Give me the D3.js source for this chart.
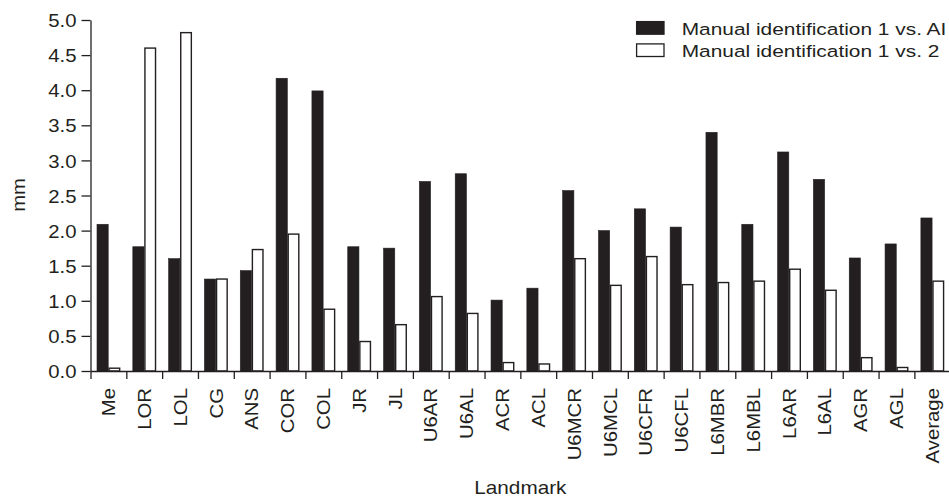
<!DOCTYPE html>
<html>
<head>
<meta charset="utf-8">
<script src="https://cdn.jsdelivr.net/npm/d3@7"></script>
<style>
  html, body { margin: 0; padding: 0; background: #fff; }
  svg { display: block; }
  text { font-family: "Liberation Sans", Arial, Helvetica, sans-serif; fill: #231f20; }
</style>
</head>
<body>
<svg id="chart" width="949" height="497"></svg>
<script>
// Landmarks along the x axis
const landmarks = ["Me", "LOR", "LOL", "CG", "ANS", "COR", "COL", "JR", "JL", "U6AR", "U6AL",
  "ACR", "ACL", "U6MCR", "U6MCL", "U6CFR", "U6CFL", "L6MBR", "L6MBL", "L6AR", "L6AL",
  "AGR", "AGL", "Average"];

// Mean distance (mm): manual identification 1 vs. AI
const vsAI = [2.09, 1.77, 1.60, 1.31, 1.43, 4.17, 3.99, 1.77, 1.75, 2.70, 2.81,
  1.01, 1.18, 2.57, 2.00, 2.31, 2.05, 3.40, 2.09, 3.12, 2.73, 1.61, 1.81, 2.18];

// Mean distance (mm): manual identification 1 vs. 2
const vsManual2 = [0.04, 4.60, 4.82, 1.31, 1.73, 1.95, 0.88, 0.42, 0.66, 1.06, 0.82,
  0.12, 0.10, 1.60, 1.22, 1.63, 1.23, 1.26, 1.28, 1.45, 1.15, 0.19, 0.05, 1.28];

const seriesNames = ["Manual identification 1 vs. AI", "Manual identification 1 vs. 2"];
const yTicks = [0, 0.5, 1.0, 1.5, 2.0, 2.5, 3.0, 3.5, 4.0, 4.5, 5.0];

const ink = "#231f20";
const svg = d3.select("#chart");

const plotLeft = 90.5, plotRight = 950.2, plotTop = 20, plotBottom = 371;

const x = d3.scaleBand().domain(landmarks).range([plotLeft, plotRight]).padding(0);
const xEdge = d3.scaleLinear().domain([0, landmarks.length]).range([plotLeft, plotRight]);
const inner = d3.scaleBand().domain([0, 1]).range([6.2, 29.8]).padding(0);
const y = d3.scaleLinear().domain([0, 5]).range([plotBottom, plotTop]);

// widen glyphs along the text direction
function stretch(sel, k) {
  sel.each(function () {
    const len = this.getComputedTextLength();
    d3.select(this).attr("textLength", len * k).attr("lengthAdjust", "spacingAndGlyphs");
  });
}

// bars
const groups = svg.append("g").selectAll("g")
  .data(landmarks.map((d, i) => ({ name: d, values: [vsAI[i], vsManual2[i]] })))
  .join("g")
  .attr("transform", d => `translate(${x(d.name)},0)`);

groups.selectAll("rect")
  .data(d => d.values.map((v, j) => ({ v, j })))
  .join("rect")
  .attr("x", d => inner(d.j) + (d.j === 1 ? 0.6 : 0.3))
  .attr("width", d => inner.bandwidth() - (d.j === 1 ? 1.2 : 0.6))
  .attr("y", d => y(d.v))
  .attr("height", d => y(0) - y(d.v))
  .attr("fill", d => d.j === 0 ? ink : "#fff")
  .attr("stroke", ink)
  .attr("stroke-width", d => d.j === 0 ? 0.6 : 1.4);

// y axis
const yAxis = svg.append("g")
  .attr("transform", `translate(${plotLeft},0)`)
  .call(d3.axisLeft(y).tickValues(yTicks).tickFormat(d3.format(".1f"))
    .tickSize(9).tickSizeOuter(0).tickPadding(5));
yAxis.selectAll("text").style("font-size", "18.5px").attr("dy", "0.36em");
yAxis.selectAll("line, path").attr("stroke", ink).attr("stroke-width", 1.3);
stretch(yAxis.selectAll("text"), 1.1);

// x axis: ticks on category boundaries
const xTicks = svg.append("g")
  .attr("transform", `translate(0,${plotBottom})`)
  .call(d3.axisBottom(xEdge).tickValues(d3.range(landmarks.length + 1))
    .tickFormat("").tickSize(8).tickSizeOuter(0));
xTicks.selectAll("line, path").attr("stroke", ink).attr("stroke-width", 1.3);

// x axis: rotated category labels
const xLabels = svg.append("g")
  .attr("transform", `translate(0,${plotBottom})`)
  .call(d3.axisBottom(x).tickSize(0).tickPadding(0));
xLabels.select(".domain").remove();
xLabels.selectAll("text")
  .style("font-size", "18.5px")
  .attr("text-anchor", "end")
  .attr("transform", "rotate(-90)")
  .attr("x", -17)
  .attr("y", 0)
  .attr("dy", "0.36em");
stretch(xLabels.selectAll("text"), 1.1);

// axis titles
const yTitle = svg.append("text")
  .attr("transform", `translate(25,195) rotate(-90)`)
  .attr("text-anchor", "middle")
  .style("font-size", "18.5px")
  .text("mm");
stretch(yTitle, 1.09);

const xTitle = svg.append("text")
  .attr("x", (plotLeft + plotRight) / 2)
  .attr("y", 494)
  .attr("text-anchor", "middle")
  .style("font-size", "18.5px")
  .text("Landmark");
stretch(xTitle, 1.12);

// legend
const legend = svg.append("g").attr("transform", "translate(636,21)");
const rows = legend.selectAll("g").data(seriesNames).join("g")
  .attr("transform", (d, i) => `translate(0,${i * 22.3})`);
rows.append("rect")
  .attr("x", 0.6).attr("y", 0.6)
  .attr("width", 27.4).attr("height", 12.6)
  .attr("fill", (d, i) => i === 0 ? ink : "#fff")
  .attr("stroke", ink).attr("stroke-width", 1.3);
const legText = rows.append("text")
  .attr("x", 45.7).attr("y", 14)
  .style("font-size", "17.2px")
  .text(d => d);
stretch(legText, 1.215);
</script>
</body>
</html>
